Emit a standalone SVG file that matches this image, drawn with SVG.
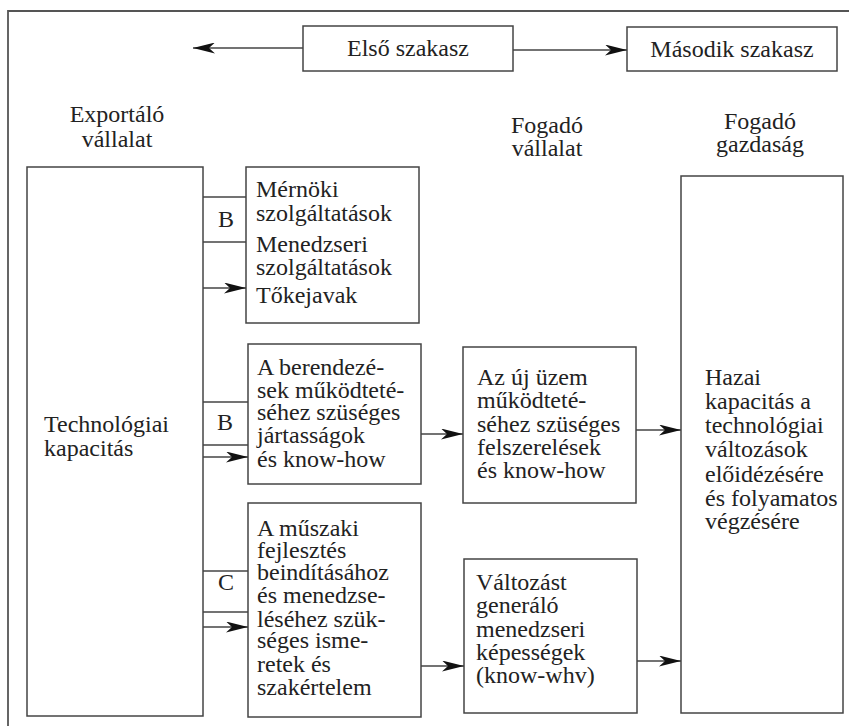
<svg xmlns="http://www.w3.org/2000/svg" width="849" height="726" viewBox="0 0 849 726">
<style>
  .box { fill: #fff; stroke: #444; stroke-width: 1.5; }
  .ln { fill: none; stroke: #444; stroke-width: 1.3; }
  .t { font-family: "Liberation Serif", "Times New Roman", serif; font-size: 24px; fill: #222; }
  .c { text-anchor: middle; }
</style>
<defs>
  <marker id="ah" viewBox="0 0 22 11" refX="22" refY="5.5" markerWidth="22" markerHeight="11" markerUnits="userSpaceOnUse" orient="auto">
    <path d="M0,0 L22,5.5 L0,11 L6,5.5 z" fill="#111"/>
  </marker>
</defs>
<rect x="0" y="0" width="849" height="726" fill="#fff"/>
<path d="M8,726 L8,11 L849,11" fill="none" stroke="#555" stroke-width="1.8"/>

<g id="elso">
  <rect class="box" x="303" y="26" width="210" height="45"/>
  <text class="t c" x="408" y="56">Első szakasz</text>
</g>
<g id="masodik">
  <rect class="box" x="627" y="27" width="210" height="44"/>
  <text class="t c" x="732" y="57">Második szakasz</text>
</g>

<g id="hdr-export">
  <text class="t c" x="117" y="122">Exportáló</text>
  <text class="t c" x="117" y="147">vállalat</text>
</g>
<g id="hdr-fogado-vallalat">
  <text class="t c" x="547" y="133">Fogadó</text>
  <text class="t c" x="547" y="156">vállalat</text>
</g>
<g id="hdr-fogado-gazdasag">
  <text class="t c" x="760" y="129">Fogadó</text>
  <text class="t c" x="760" y="152">gazdaság</text>
</g>

<g id="tech">
  <rect class="box" x="27" y="167" width="176" height="549"/>
  <text class="t" x="44" y="432">Technológiai</text>
  <text class="t" x="44" y="456">kapacitás</text>
</g>

<g id="box1">
  <rect class="box" x="246" y="167" width="173" height="156"/>
  <text class="t" x="256" y="197">Mérnöki</text>
  <text class="t" x="256" y="221">szolgáltatások</text>
  <text class="t" x="256" y="252">Menedzseri</text>
  <text class="t" x="256" y="275">szolgáltatások</text>
  <text class="t" x="256" y="303">Tőkejavak</text>
</g>

<g id="box2">
  <rect class="box" x="248" y="344" width="173" height="140"/>
  <text class="t" x="257" y="375">A berendezé-</text>
  <text class="t" x="257" y="398">sek működteté-</text>
  <text class="t" x="257" y="420">séhez szüséges</text>
  <text class="t" x="257" y="443">jártasságok</text>
  <text class="t" x="257" y="467">és know-how</text>
</g>

<g id="box3">
  <rect class="box" x="463" y="347" width="173" height="156"/>
  <text class="t" x="477" y="385">Az új üzem</text>
  <text class="t" x="477" y="408">működteté-</text>
  <text class="t" x="477" y="432">séhez szüséges</text>
  <text class="t" x="477" y="455">felszerelések</text>
  <text class="t" x="477" y="478">és know-how</text>
</g>

<g id="box5">
  <rect class="box" x="248" y="503" width="173" height="214"/>
  <text class="t" x="257" y="536">A műszaki</text>
  <text class="t" x="257" y="558">fejlesztés</text>
  <text class="t" x="257" y="580">beindításához</text>
  <text class="t" x="257" y="603">és menedzse-</text>
  <text class="t" x="257" y="627">léséhez szük-</text>
  <text class="t" x="257" y="648">séges isme-</text>
  <text class="t" x="257" y="672">retek és</text>
  <text class="t" x="257" y="695">szakértelem</text>
</g>

<g id="box6">
  <rect class="box" x="464" y="559" width="173" height="154"/>
  <text class="t" x="476" y="590">Változást</text>
  <text class="t" x="476" y="613">generáló</text>
  <text class="t" x="476" y="637">menedzseri</text>
  <text class="t" x="476" y="660">képességek</text>
  <text class="t" x="476" y="683">(know-whv)</text>
</g>

<g id="right">
  <rect class="box" x="681" y="176" width="162" height="537"/>
  <text class="t" x="705" y="385">Hazai</text>
  <text class="t" x="705" y="409">kapacitás a</text>
  <text class="t" x="705" y="433">technológiai</text>
  <text class="t" x="705" y="457">változások</text>
  <text class="t" x="705" y="482">előidézésére</text>
  <text class="t" x="705" y="506">és folyamatos</text>
  <text class="t" x="705" y="529">végzésére</text>
</g>

<g id="labels">
  <text class="t" x="218" y="227">B</text>
  <text class="t" x="217" y="430">B</text>
  <text class="t" x="218" y="590">C</text>
</g>

<g id="connectors">
  <line class="ln" x1="303" y1="48" x2="193" y2="48" marker-end="url(#ah)"/>
  <line class="ln" x1="513" y1="50" x2="627" y2="50" marker-end="url(#ah)"/>

  <line class="ln" x1="203" y1="197" x2="246" y2="197"/>
  <line class="ln" x1="203" y1="242" x2="246" y2="242"/>
  <line class="ln" x1="203" y1="288" x2="246" y2="288" marker-end="url(#ah)"/>

  <line class="ln" x1="203" y1="402" x2="248" y2="402"/>
  <line class="ln" x1="203" y1="445" x2="248" y2="445"/>
  <line class="ln" x1="203" y1="457" x2="248" y2="457" marker-end="url(#ah)"/>

  <line class="ln" x1="203" y1="571" x2="248" y2="571"/>
  <line class="ln" x1="203" y1="612" x2="248" y2="612"/>
  <line class="ln" x1="203" y1="627" x2="248" y2="627" marker-end="url(#ah)"/>

  <line class="ln" x1="421" y1="434" x2="463" y2="434" marker-end="url(#ah)"/>
  <line class="ln" x1="636" y1="430" x2="681" y2="430" marker-end="url(#ah)"/>
  <line class="ln" x1="421" y1="666" x2="464" y2="666" marker-end="url(#ah)"/>
  <line class="ln" x1="637" y1="661" x2="681" y2="661" marker-end="url(#ah)"/>
</g>
</svg>
